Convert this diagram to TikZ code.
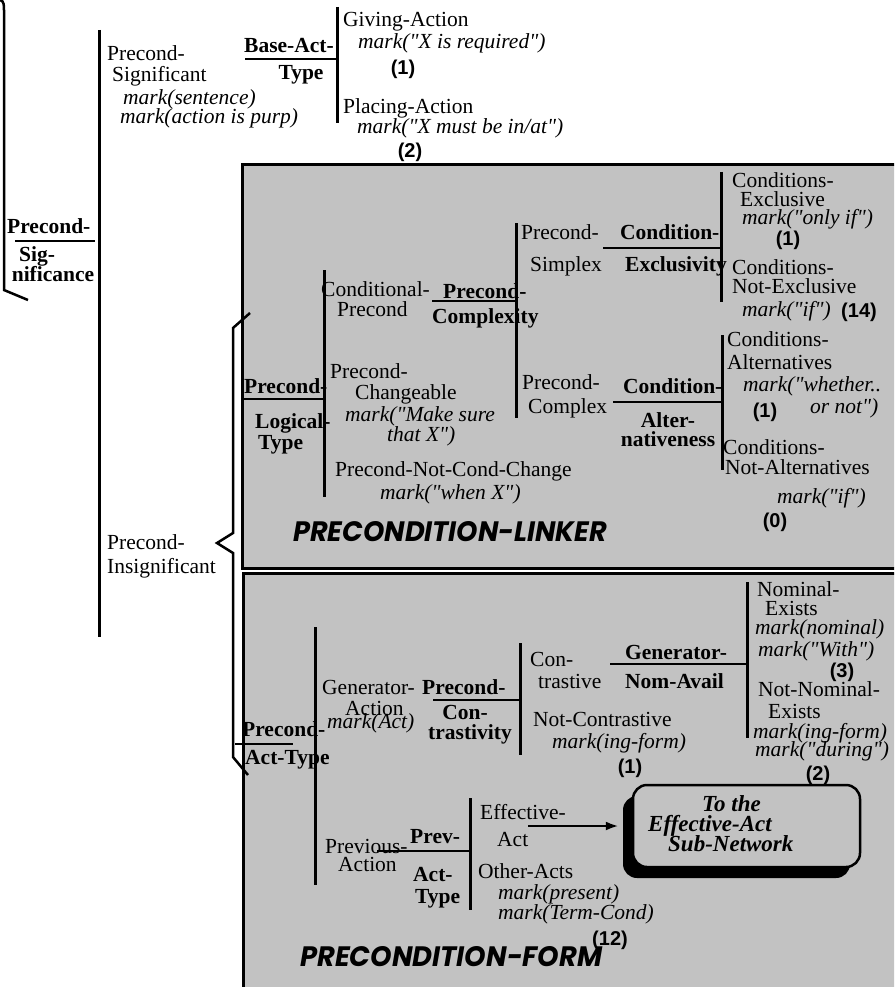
\documentclass[tikz,border=0pt]{standalone}
\usepackage{fontspec}
\usepackage{graphicx}
\setmainfont{Liberation Serif}[Ligatures=TeXOff]
\newfontfamily\cntfont{Liberation Sans}
\newfontfamily\titlefont{Poppins}
\usetikzlibrary{arrows.meta,shadows}
\definecolor{stipple}{gray}{0.76}
\tikzset{
  lab/.style={inner sep=0pt, anchor=west, text height=12pt, text depth=0pt,
              font=\fontsize{21.5}{20}\selectfont},
  labb/.style={lab, font=\fontsize{21.5}{20}\selectfont\bfseries},
  labi/.style={lab, font=\fontsize{21.5}{20}\selectfont\itshape},
  cnt/.style={inner sep=0pt, anchor=center, font=\cntfont\fontsize{20}{20}\selectfont\bfseries},
  boxtxt/.style={lab, font=\fontsize{23}{20}\selectfont\bfseries\itshape},
  ttl/.style={inner sep=0pt, anchor=west},
  bar/.style={line width=3pt},
  rule/.style={line width=2pt},
  brack/.style={line width=2.5pt, line join=miter},
  panel/.style={draw, line width=3pt, fill=stipple},
}
\begin{document}
\begin{tikzpicture}[x=1pt,y=-1pt]
\useasboundingbox (0,0) rectangle (894,987);
\fill[white] (0,0) rectangle (894,987);
\clip (0,0) rectangle (894,987);

% ---------- outermost system: Precond-Significance ----------
\draw[brack] (0,0) to[out=-10,in=90] (4,10) -- (4,290) -- (28,300);
\node[labb] (sigA) at (7,227) {Precond-};
\draw[rule] (15,241) -- (95,241);
\node[labb, anchor=center] (sigB) at (37,255) {Sig-};
\node[labb, anchor=center] (sigC) at (53,275) {nificance};
\draw[bar] (99,30) -- (99,637);

% Precond-Significant
\node[lab]  (psA) at (107,55)  {Precond-};
\node[lab]  (psB) at (112,76)  {Significant};
\node[labi] (psC) at (123,99)  {mark(sentence)};
\node[labi] (psD) at (120,118) {mark(action is purp)};

% Base-Act-Type
\node[labb, anchor=center] (batA) at (289,47) {Base-Act-};
\draw[rule] (245,59) -- (337,59);
\node[labb, anchor=center] (batB) at (301,74) {Type};
\draw[bar] (337,7) -- (337,123);
\node[lab]  (giveA) at (343,21)  {Giving-Action};
\node[labi] (giveB) at (358,43)  {mark("X is required")};
\node[cnt]  (giveN) at (403,69)  {(1)};
\node[lab]  (placeA) at (343,108) {Placing-Action};
\node[labi] (placeB) at (357,128) {mark("X must be in/at")};
\node[cnt]  (placeN) at (410,152) {(2)};

% Precond-Insignificant and its brace
\node[lab] (piA) at (107,543) {Precond-};
\node[lab] (piB) at (107,567) {Insignificant};

% ---------- the two shaded panels ----------
\path[panel] (242,165) rectangle (910,568);
\path[panel] (243,573) rectangle (910,1000);

\draw[brack] (250,313) -- (233,328) -- (233,533) -- (217,543) -- (233,553)
             -- (233,757) -- (248,775);

% ---------- PRECONDITION-LINKER ----------
\node[labb] (plA) at (244,387) {Precond-};
\draw[rule] (242,399) -- (324,399);
\node[labb] (plB) at (255,422) {Logical-};
\node[labb] (plC) at (258,443) {Type};
\draw[bar] (324,270) -- (324,497);

\node[lab] (cpA) at (321,290) {Conditional-};
\node[lab] (cpB) at (337,310) {Precond};
\node[labb] (pcxA) at (443,292) {Precond-};
\draw[rule] (432,301) -- (517,301);
\node[labb] (pcxB) at (432,317) {Complexity};
\draw[bar] (516,223) -- (516,418);

\node[lab] (smpA) at (521,233) {Precond-};
\node[lab] (smpB) at (530,265) {Simplex};
\node[labb] (ceA) at (620,233) {Condition-};
\draw[rule] (603,248) -- (721,248);
\node[labb] (ceB) at (625,265) {Exclusivity};
\draw[bar] (721,172) -- (721,302);

\node[lab]  (cexA) at (732,182) {Conditions-};
\node[lab]  (cexB) at (740,200) {Exclusive};
\node[labi] (cexC) at (742,218) {mark("only if")};
\node[cnt]  (cexN) at (788,240) {(1)};
\node[lab]  (cnxA) at (732,268) {Conditions-};
\node[lab]  (cnxB) at (732,287) {Not-Exclusive};
\node[labi] (cnxC) at (742,310) {mark("if")};
\node[cnt]  (cnxN) at (859,312) {(14)};

\node[lab] (cplA) at (522,383) {Precond-};
\node[lab] (cplB) at (528,407) {Complex};
\node[labb] (caA) at (623,387) {Condition-};
\draw[rule] (613,402) -- (722,402);
\node[labb, anchor=center] (caB) at (668,421) {Alter-};
\node[labb, anchor=center] (caC) at (668,440) {nativeness};
\draw[bar] (722,335) -- (722,470);

\node[lab]  (calA) at (727,340) {Conditions-};
\node[lab]  (calB) at (727,363) {Alternatives};
\node[labi] (calC) at (743,385) {mark("whether..};
\node[cnt]  (calN) at (765,412) {(1)};
\node[labi] (calD) at (810,407) {or not")};
\node[lab]  (cnaA) at (723,448) {Conditions-};
\node[lab]  (cnaB) at (725,468) {Not-Alternatives};
\node[labi] (cnaC) at (777,497) {mark("if")};
\node[cnt]  (cnaN) at (775,522) {(0)};

\node[lab]  (chA) at (330,372) {Precond-};
\node[lab]  (chB) at (355,393) {Changeable};
\node[labi] (chC) at (345,415) {mark("Make sure};
\node[labi] (chD) at (387,435) {that X")};
\node[lab]  (ncA) at (335,470) {Precond-Not-Cond-Change};
\node[labi] (ncB) at (380,493) {mark("when X")};

\node[ttl] (linker) at (293,532)
  {\resizebox{314pt}{20pt}{\titlefont\bfseries\itshape PRECONDITION-LINKER}};

% ---------- PRECONDITION-FORM ----------
\node[labb] (patA) at (242,730) {Precond-};
\draw[rule] (235,744) -- (293,744);
\node[labb] (patB) at (245,758) {Act-Type};
\draw[bar] (315,627) -- (315,885);

\node[lab]  (genA) at (322,688) {Generator-};
\node[lab]  (genB) at (345,709) {Action};
\node[labi] (genC) at (327,722) {mark(Act)};
\node[labb] (pctA) at (422,688) {Precond-};
\draw[rule] (433,700) -- (520,700);
\node[labb, anchor=center] (pctB) at (465,713) {Con-};
\node[labb, anchor=center] (pctC) at (470,733) {trastivity};
\draw[bar] (520,643) -- (520,755);

\node[lab]  (conA) at (530,660) {Con-};
\node[lab]  (conB) at (538,682) {trastive};
\node[lab]  (ncoA) at (533,720) {Not-Contrastive};
\node[labi] (ncoB) at (552,742) {mark(ing-form)};
\node[cnt]  (ncoN) at (630,768) {(1)};

\node[labb] (gnA) at (625,653) {Generator-};
\draw[rule] (610,664) -- (747,664);
\node[labb] (gnB) at (625,682) {Nom-Avail};
\draw[bar] (747,582) -- (747,738);

\node[lab]  (neA) at (757,590) {Nominal-};
\node[lab]  (neB) at (765,609) {Exists};
\node[labi] (neC) at (755,628) {mark(nominal)};
\node[labi] (neD) at (758,650) {mark("With")};
\node[cnt]  (neN) at (842,672) {(3)};
\node[lab]  (nneA) at (758,690) {Not-Nominal-};
\node[lab]  (nneB) at (768,712) {Exists};
\node[labi] (nneC) at (753,732) {mark(ing-form)};
\node[labi] (nneD) at (755,750) {mark("during")};
\node[cnt]  (nneN) at (818,775) {(2)};

\node[lab]  (prvA) at (325,847) {Previous-};
\node[lab]  (prvB) at (338,865) {Action};
\node[labb] (patyA) at (410,837) {Prev-};
\draw[rule] (377,851) -- (470,851);
\node[labb] (patyB) at (413,875) {Act-};
\node[labb] (patyC) at (415,897) {Type};
\draw[bar] (470,798) -- (470,910);

\node[lab]  (effA) at (480,813) {Effective-};
\node[lab]  (effB) at (497,840) {Act};
\node[lab]  (othA) at (478,872) {Other-Acts};
\node[labi] (othB) at (498,893) {mark(present)};
\node[labi] (othC) at (498,913) {mark(Term-Cond)};
\node[cnt]  (othN) at (610,940) {(12)};

% link to the Effective-Act sub-network
\node[draw, line width=2.5pt, fill=stipple, rounded corners=14pt,
      minimum width=227pt, minimum height=82pt, inner sep=0pt,
      general shadow={shadow xshift=-10pt, shadow yshift=-11pt, fill=black}]
      (effbox) at (746.5,826) {};
\node[boxtxt] (effT1) at (702,805) {To the};
\node[boxtxt] (effT2) at (648,825) {Effective-Act};
\node[boxtxt] (effT3) at (668,845) {Sub-Network};
\draw[line width=2.5pt, -{Latex[length=13pt,width=9pt]}]
  (effB.east |- effbox.west) -- ([xshift=-13pt]effbox.west);

\node[ttl] (form) at (300,957)
  {\resizebox{302pt}{20pt}{\titlefont\bfseries\itshape PRECONDITION-FORM}};
\end{tikzpicture}
\end{document}
